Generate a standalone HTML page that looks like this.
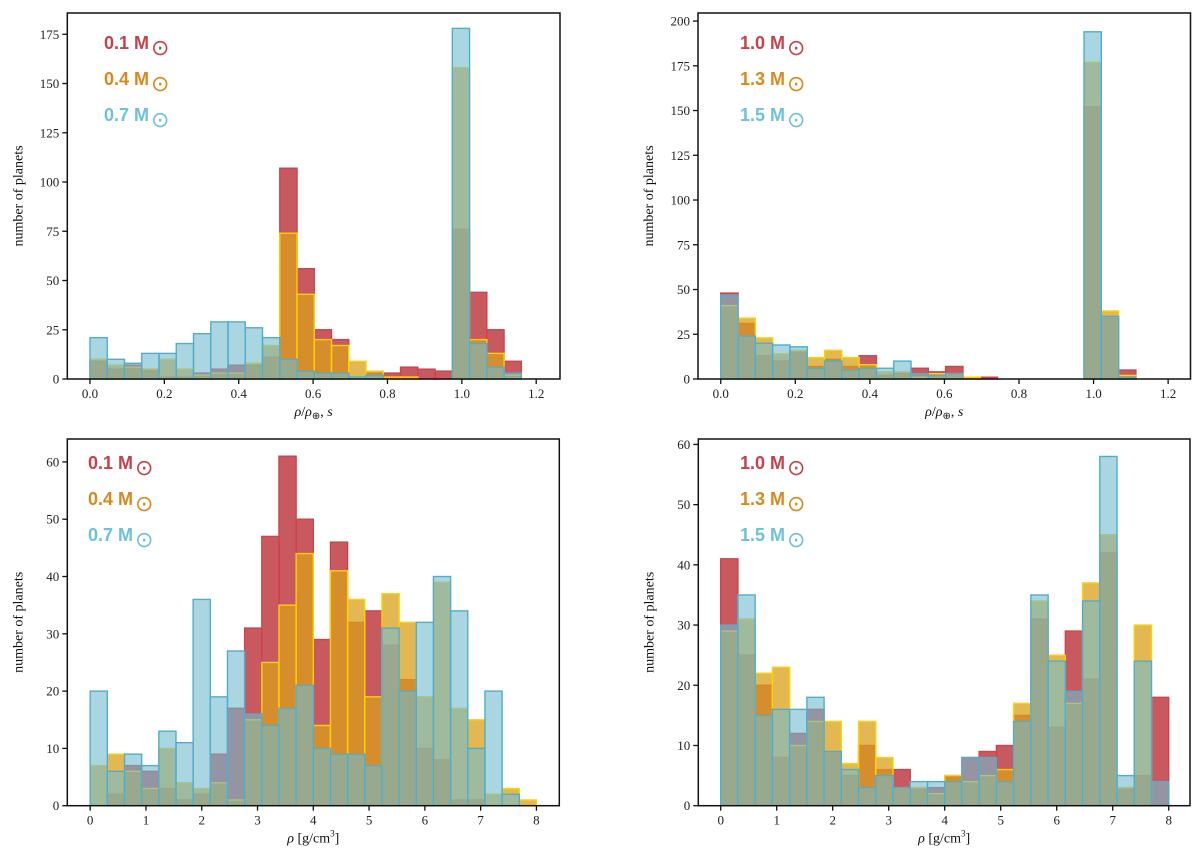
<!DOCTYPE html>
<html><head><meta charset="utf-8"><style>
html,body{margin:0;padding:0;background:#fff}
svg{display:block}
.tk{font-family:"Liberation Serif",serif;font-size:13px;fill:#222}
.lab{font-family:"Liberation Serif",serif;font-size:14px;fill:#111}
.leg{font-family:"Liberation Sans",sans-serif;font-size:18px;font-weight:bold}
</style></head><body>
<svg id="fig" width="1200" height="858" viewBox="0 0 1200 858" xmlns="http://www.w3.org/2000/svg"></svg>
<script>
// ---- data ----
const p1Red    = [9,5,7,5,1,1,3,5,7,7,11,107,56,25,20,0,3,3,6,5,4,76,44,25,9];
const p1Orange = [10,7,6,5,10,5,2,3,3,8,17,74,43,20,17,9,4,1,1,0,0,158,20,13,2];
const p1Blue   = [21,10,8,13,13,18,23,29,29,26,21,10,4,3,3,1,2,0,0,0,0,178,18,6,3];
const p2Red    = [48,31,13,10,15,7,11,7,13,2,3,6,4,7,1,1,0,0,0,0,0,152,34,5];
const p2Orange = [41,34,23,14,16,12,16,12,8,4,4,1,3,3,1,0,0,0,0,0,0,177,38,2];
const p2Blue   = [47,24,20,19,18,6,10,5,6,6,10,3,2,3,0,0,0,0,0,0,0,194,35,1];
const p3Red    = [0,2,7,6,3,1,2,9,17,31,47,61,50,29,46,32,34,28,22,10,8,1,1,0,0,0];
const p3Orange = [7,9,6,3,10,4,3,4,1,15,25,35,44,14,41,36,19,37,32,19,39,17,15,2,3,1];
const p3Blue   = [20,6,9,7,13,11,36,19,27,16,14,17,21,10,9,9,7,31,20,32,40,34,10,20,2,0];
const p4Red    = [41,25,20,8,12,16,9,5,10,6,6,3,3,5,8,9,10,15,31,13,29,21,42,3,5,18];
const p4Orange = [29,31,22,23,10,14,14,7,14,8,3,3,2,5,4,5,6,17,34,25,17,37,45,3,30,0];
const p4Blue   = [30,35,15,16,16,18,9,6,3,5,3,4,4,4,8,8,4,14,35,24,19,34,58,5,24,4];
const ticksRel = ["0.0","0.2","0.4","0.6","0.8","1.0","1.2"];
const ticksAbs = ["0","1","2","3","4","5","6","7","8"];
const yTicks1 = [0,25,50,75,100,125,150,175];
const yTicks2 = [0,25,50,75,100,125,150,175,200];
const yTicks3 = [0,10,20,30,40,50,60];
const legendLow  = ["0.1","0.4","0.7"];
const legendHigh = ["1.0","1.3","1.5"];

const NS="http://www.w3.org/2000/svg";
const svg=document.getElementById('fig');
function mk(tag,attrs,parent){const e=document.createElementNS(NS,tag);for(const k in attrs)e.setAttribute(k,attrs[k]);(parent||svg).appendChild(e);return e;}

const styles=[
 {fill:"rgba(182,35,42,0.75)",stroke:"#d2424c"},
 {fill:"rgba(218,160,26,0.75)",stroke:"#ffd200"},
 {fill:"rgba(113,187,207,0.6)",stroke:"#4faed0"}];
const legCols=["#c8404a","#d8891c","#6cc2dc"];

function panel(o){
  const g=mk('g',{});
  
  
  const X=v=>o.L+(v-o.xmin)/(o.xmax-o.xmin)*(o.R-o.L);
  const Y=v=>o.B-(v-0)/o.ymax*(o.B-o.T);
  o.series.forEach((s,si)=>{
    const sg=mk('g',{},g);
    
    
    s.forEach((v,i)=>{
      if(v<=0)return;
      const x0=X(i*o.bw),x1=X((i+1)*o.bw);
      const r=mk('rect',{x:x0,y:Y(v),width:x1-x0,height:Y(0)-Y(v),fill:styles[si].fill,stroke:styles[si].stroke,'stroke-width':1.4},sg);
      
      
    });
  });
  const f=mk('rect',{x:o.L,y:o.T,width:o.R-o.L,height:o.B-o.T,fill:'none',stroke:'#111','stroke-width':1.5},g);
  
  
  const xa=mk('g',{},g);
  
  
  o.xt.forEach(t=>{const x=X(parseFloat(t));
    mk('line',{x1:x,x2:x,y1:o.B,y2:o.B+5,stroke:'#111','stroke-width':1.3},xa);
    const tx=mk('text',{x:x,y:o.B+19,'text-anchor':'middle',class:'tk'},xa);tx.textContent=t;});
  const ya=mk('g',{},g);
  
  
  o.yt.forEach(t=>{const y=Y(t);
    mk('line',{x1:o.L-5,x2:o.L,y1:y,y2:y,stroke:'#111','stroke-width':1.3},ya);
    const tx=mk('text',{x:o.L-8,y:y+4.5,'text-anchor':'end',class:'tk'},ya);tx.textContent=t;});
  const yl=mk('text',{x:0,y:0,transform:`translate(${o.L-45},${(o.T+o.B)/2}) rotate(-90)`,'text-anchor':'middle',class:'lab'},g);
  yl.textContent='number of planets';
  
  
  const xl=mk('text',{x:(o.L+o.R)/2,y:o.B+37,'text-anchor':'middle',class:'lab'},g);
  
  
  if(o.rel){xl.innerHTML='<tspan font-style="italic">ρ</tspan>/<tspan font-style="italic">ρ</tspan><tspan font-size="10" dy="3">⊕</tspan><tspan dy="-3">,</tspan><tspan font-style="italic"> s</tspan>';}
  else{xl.innerHTML='<tspan font-style="italic">ρ</tspan> [g/cm<tspan font-size="9" dy="-6">3</tspan><tspan dy="6">]</tspan>';}
  o.leg.forEach((m,i)=>{
    const t=mk('text',{x:o.lx,y:o.ly+i*36,class:'leg',fill:legCols[i]},g);
    t.innerHTML=m+' M<tspan font-size="22" font-weight="normal" dy="6" dx="2">⊙</tspan>';
    
    
  });
}
const bwRel=0.0464, bwAbs=8/26;
panel({name:'panel-low-mass-relative',L:67.3,R:560,T:13,B:379,xmin:-0.061,xmax:1.264,ymax:185.8,bw:bwRel,
  series:[p1Red,p1Orange,p1Blue],sname:['red-0.1','orange-0.4','blue-0.7'],xt:ticksRel,yt:yTicks1,rel:true,leg:legendLow,lx:104,ly:49});
panel({name:'panel-high-mass-relative',L:698,R:1190.5,T:13,B:379,xmin:-0.061,xmax:1.260,ymax:204.5,bw:bwRel,
  series:[p2Red,p2Orange,p2Blue],sname:['red-1.0','orange-1.3','blue-1.5'],xt:ticksRel,yt:yTicks2,rel:true,leg:legendHigh,lx:740,ly:49});
panel({name:'panel-low-mass-density',L:67.3,R:559.3,T:439,B:805.7,xmin:-0.41,xmax:8.41,ymax:64,bw:bwAbs,
  series:[p3Red,p3Orange,p3Blue],sname:['red-0.1','orange-0.4','blue-0.7'],xt:ticksAbs,yt:yTicks3,rel:false,leg:legendLow,lx:88,ly:469});
panel({name:'panel-high-mass-density',L:698.3,R:1190,T:439,B:805.7,xmin:-0.4,xmax:8.38,ymax:60.9,bw:bwAbs,
  series:[p4Red,p4Orange,p4Blue],sname:['red-1.0','orange-1.3','blue-1.5'],xt:ticksAbs,yt:yTicks3,rel:false,leg:legendHigh,lx:740,ly:469});
</script>
</body></html>
